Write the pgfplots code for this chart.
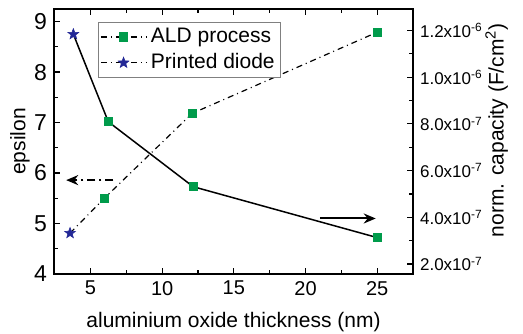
\documentclass[border=0pt]{standalone}
\usepackage{fontspec}
\setmainfont{Liberation Sans}
\usepackage{pgfplots}
\pgfplotsset{compat=1.18}
\usetikzlibrary{arrows.meta}
\definecolor{aldgreen}{RGB}{0,155,75}
\definecolor{starblue}{RGB}{35,40,150}
\pgfdeclareplotmark{fstar}{%
  \pgfpathmoveto{\pgfpointpolar{90}{\pgfplotmarksize}}%
  \pgfpathlineto{\pgfpointpolar{126}{0.42\pgfplotmarksize}}%
  \pgfpathlineto{\pgfpointpolar{162}{\pgfplotmarksize}}%
  \pgfpathlineto{\pgfpointpolar{198}{0.42\pgfplotmarksize}}%
  \pgfpathlineto{\pgfpointpolar{234}{\pgfplotmarksize}}%
  \pgfpathlineto{\pgfpointpolar{270}{0.42\pgfplotmarksize}}%
  \pgfpathlineto{\pgfpointpolar{306}{\pgfplotmarksize}}%
  \pgfpathlineto{\pgfpointpolar{342}{0.42\pgfplotmarksize}}%
  \pgfpathlineto{\pgfpointpolar{18}{\pgfplotmarksize}}%
  \pgfpathlineto{\pgfpointpolar{54}{0.42\pgfplotmarksize}}%
  \pgfpathclose
  \pgfusepathqfillstroke}
\begin{document}
\begin{tikzpicture}
\begin{axis}[
  scale only axis, width=179.5pt, height=132.5pt,
  at={(0,0)}, anchor=south west,
  xmin=2.45, xmax=27.5, ymin=4, ymax=9.25,
  xtick={5,10,15,20,25}, minor xtick={7.5,12.5,17.5,22.5},
  ytick={4,5,6,7,8,9}, minor ytick={4.5,5.5,6.5,7.5,8.5},
  xtick pos=both, ytick pos=left,
  tick align=inside,
  major tick length=3pt, minor tick length=1.8pt,
  axis line style={line width=0.8pt},
  every tick/.style={black, line width=0.6pt},
  /pgf/number format/assume math mode=true,
  xticklabel style={font=\fontsize{10}{12}\selectfont},
  yticklabel style={font=\fontsize{11.5}{13}\selectfont},
  label style={font=\fontsize{10.5}{12}\selectfont},
  xlabel={aluminium oxide thickness (nm)},
  ylabel={epsilon},
  xlabel style={at={(axis description cs:0.5,-0.18)},anchor=center},
  ylabel style={at={(axis description cs:-0.095,0.5)},anchor=center},
  legend style={at={(axis description cs:0.1217,0.952)}, anchor=north west,
    draw=gray, line width=0.5pt, font=\fontsize{10.5}{13}\selectfont,
    inner sep=1pt, row sep=0pt},
  legend cell align=left,
  legend image code/.code={\draw[mark repeat=2,mark phase=2,#1] plot coordinates {(0cm,0cm)(0.4cm,0cm)(0.8cm,0cm)};},
]
\addlegendimage{black, line width=0.6pt, dash pattern=on 3pt off 2pt on 0.5pt off 2pt, mark=square*, mark size=2pt, mark options={solid, fill=aldgreen, draw=aldgreen}}
\addlegendentry{ALD process}
\addlegendimage{black, line width=0.6pt, dash pattern=on 3pt off 2pt on 0.5pt off 2pt, mark=fstar, mark size=2.8pt, mark options={solid, fill=starblue, draw=starblue, line width=0.3pt}}
\addlegendentry{Printed diode}

\addplot[forget plot, black, line width=0.6pt, dash pattern=on 3pt off 2pt on 0.5pt off 2pt] coordinates {(3.57,4.81) (5.96,5.50) (12.08,7.18) (25,8.79)};
\addplot[forget plot, only marks, mark=square*, mark size=2pt, fill=aldgreen, draw=aldgreen] coordinates {(5.96,5.50) (12.08,7.18) (25,8.79)};
\addplot[forget plot, only marks, mark=fstar, mark size=2.8pt, fill=starblue, draw=starblue, line width=0.3pt] coordinates {(3.57,4.81)};

\draw[black, line width=1pt, dash pattern=on 4pt off 2pt on 1pt off 2pt, -{Stealth[length=6pt,width=5pt]}] (axis cs:6.6,5.86) -- (axis cs:3.3,5.86);
\draw[black, line width=1pt, -{Stealth[length=6pt,width=5pt]}] (axis cs:21.0,5.10) -- (axis cs:24.9,5.10);
\end{axis}

\begin{axis}[
  scale only axis, width=179.5pt, height=132.5pt,
  at={(0,0)}, anchor=south west,
  xmin=2.45, xmax=27.5, ymin=1.57e-7, ymax=1.292e-6,
  axis x line=none, axis y line*=right,
  scaled y ticks=false,
  ytick={2e-7,4e-7,6e-7,8e-7,1e-6,1.2e-6},
  yticklabels={2.0x10\textsuperscript{-7},4.0x10\textsuperscript{-7},6.0x10\textsuperscript{-7},8.0x10\textsuperscript{-7},1.0x10\textsuperscript{-6},1.2x10\textsuperscript{-6}},
  minor ytick={3e-7,5e-7,7e-7,9e-7,1.1e-6},
  tick align=inside,
  major tick length=3pt, minor tick length=1.8pt,
  axis line style={line width=0.8pt},
  every tick/.style={black, line width=0.6pt},
  yticklabel style={font=\fontsize{8.5}{10}\selectfont},
  ylabel={norm. capacity (F/cm\textsuperscript{2})},
  ylabel style={font=\fontsize{10.5}{12}\selectfont, at={(axis description cs:1.233,0.543)},anchor=center},
]
\addplot[black, line width=0.75pt] coordinates {(3.8,1.184e-6) (6.24,8.09e-7) (12.16,5.31e-7) (25,3.13e-7)};
\addplot[only marks, mark=square*, mark size=2pt, fill=aldgreen, draw=aldgreen] coordinates {(6.24,8.09e-7) (12.16,5.31e-7) (25,3.13e-7)};
\addplot[only marks, mark=fstar, mark size=2.8pt, fill=starblue, draw=starblue, line width=0.3pt] coordinates {(3.8,1.184e-6)};
\end{axis}
\pgfresetboundingbox
\path (-27pt,-29.5pt) rectangle (234.5pt,137pt);
\end{tikzpicture}
\end{document}
